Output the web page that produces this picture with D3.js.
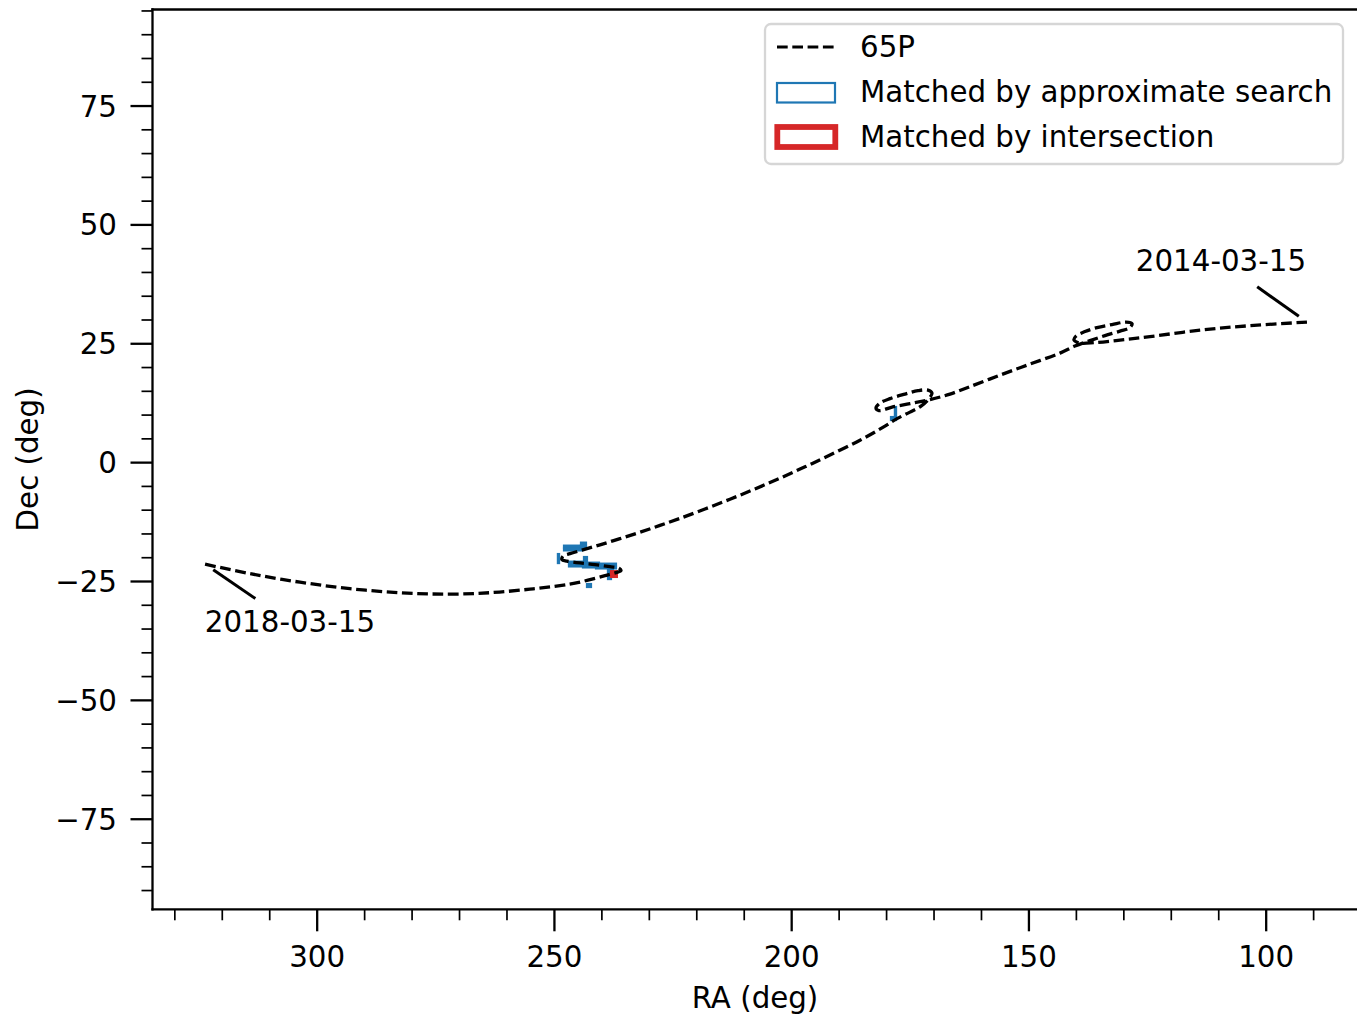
<!DOCTYPE html>
<html>
<head>
<meta charset="utf-8">
<script src="https://cdn.jsdelivr.net/npm/d3@7"></script>
<style>
  body { margin: 0; background: #fff; }
  text { font-family: "DejaVu Sans", sans-serif; fill: #000; }
</style>
</head>
<body>
<svg id="chart" width="1357" height="1015"></svg>
<script>
// Apparent sky track of comet 65P, 2014-03-15 -> 2018-03-15 (degrees)
const trackRA = [
  91.30, 103.30, 113.84, 124.38, 130.70, 135.97, 139.13, 140.40, 139.98, 138.08,
  135.55, 132.39, 129.44, 128.17, 128.60, 130.70, 133.87, 137.03, 140.19, 143.35,
  149.67, 155.99, 162.32, 166.53, 170.75, 174.96, 178.75, 181.50, 182.13, 181.28,
  179.18, 176.02, 173.28, 171.17, 170.33, 170.96, 172.64, 174.96, 177.70, 180.23,
  185.50, 191.82, 197.09, 202.36, 207.63, 212.90, 218.17, 223.43, 227.65,
  231.86, 236.08, 240.29, 244.09, 246.62, 248.09, 248.30, 247.25, 244.51, 241.35,
  238.19, 236.29, 235.87, 236.92, 239.24, 242.40, 245.56, 248.72, 255.05, 263.48,
  272.54, 282.44, 292.98, 303.52, 314.06, 323.54
];
const trackDec = [
  29.45, 28.70, 27.76, 26.40, 25.67, 25.14, 25.04, 25.67, 26.51, 27.46,
  28.30, 28.93, 29.45, 29.14, 28.30, 27.56, 26.61, 25.56, 24.41, 22.93,
  20.62, 18.30, 15.88, 14.31, 13.15, 12.31, 11.57, 10.84, 11.36, 12.41,
  13.36, 14.31, 15.04, 15.15, 14.52, 13.36, 11.78, 10.52, 9.15, 7.57,
  4.61, 1.49, -0.99, -3.37, -5.64, -7.80, -9.86, -11.82, -13.31,
  -14.74, -16.09, -17.39, -18.51, -19.25, -19.78, -20.51, -20.83, -21.21, -21.56,
  -21.99, -22.30, -22.83, -23.25, -23.88, -24.72, -25.46, -25.98, -26.72, -27.46,
  -27.77, -27.46, -26.61, -25.25, -23.46, -21.46
];

// Frames matched by approximate search: [RA centre, Dec centre, RA size, Dec size]
const approxFrames = [
  [245.98, -17.75, 3.67, 0.25], [245.98, -18.38, 3.67, 0.25],
  [243.77, -17.12, 0.93, 0.25], [243.77, -17.75, 0.93, 0.25],
  [249.04, -20.28, 0.12, 1.77],
  [243.35, -20.38, 0.51, 0.72],
  [245.25, -21.12, 3.03, 0.25], [245.25, -21.75, 3.03, 0.25],
  [242.19, -21.33, 3.25, 0.25], [242.19, -21.96, 3.25, 0.25],
  [239.03, -21.54, 4.09, 0.25], [239.03, -22.17, 4.09, 0.25],
  [238.08, -22.59, 0.93, 0.25], [238.08, -23.22, 0.93, 0.25],
  [238.29, -24.17, 0.51, 0.72],
  [242.61, -25.95, 0.72, 0.50],
  [178.02, 10.54, 0.12, 1.98],
  [178.44, 9.17, 0.93, 0.50]
];
// Frames matched by intersection
const intersectFrames = [
  [237.34, -23.54, 0.46, 0.46]
];

const dateLabels = ["2014-03-15", "2018-03-15"];
const raMajorTicks = [300, 250, 200, 150, 100];
const decMajorTicks = [-75, -50, -25, 0, 25, 50, 75];
const raMinorTicks = d3.range(90, 331, 10).filter(v => !raMajorTicks.includes(v));
const decMinorTicks = d3.range(-90, 96, 5).filter(v => !decMajorTicks.includes(v));
const legendLabels = ["65P", "Matched by approximate search", "Matched by intersection"];

const BLUE = "#1f77b4", RED = "#d62728";
const FONT = 29.3;

const svg = d3.select("#chart");
svg.append("rect").attr("width", 1357).attr("height", 1015).attr("fill", "#fff");

const frame = { left: 152.5, right: 1357.5, top: 9.5, bottom: 909.3 };
const x = d3.scaleLinear().domain([334.6, 80.65]).range([frame.left, frame.right]);
const y = d3.scaleLinear().domain([-94.05, 95.2]).range([frame.bottom, frame.top]);

const fmt = d => d < 0 ? "\u2212" + Math.abs(d) : String(d);

// axes: minor and major ticks
function styleAxis(g, width) {
  g.select(".domain").remove();
  g.selectAll(".tick line").attr("stroke", "#000").attr("stroke-width", width);
  g.selectAll(".tick text").style("font-size", FONT + "px").style("font-family", "DejaVu Sans");
}
const gxMinor = svg.append("g").attr("transform", `translate(0,${frame.bottom})`)
  .call(d3.axisBottom(x).tickValues(raMinorTicks).tickSize(11).tickFormat(""));
styleAxis(gxMinor, 1.7);
const gxMajor = svg.append("g").attr("transform", `translate(0,${frame.bottom})`)
  .call(d3.axisBottom(x).tickValues(raMajorTicks).tickSize(22).tickPadding(15.2).tickFormat(fmt));
styleAxis(gxMajor, 2.3);

const gyMinor = svg.append("g").attr("transform", `translate(${frame.left},0)`)
  .call(d3.axisLeft(y).tickValues(decMinorTicks).tickSize(11).tickFormat(""));
styleAxis(gyMinor, 1.7);
const gyMajor = svg.append("g").attr("transform", `translate(${frame.left},0)`)
  .call(d3.axisLeft(y).tickValues(decMajorTicks).tickSize(22).tickPadding(13.5).tickFormat(fmt));
styleAxis(gyMajor, 2.3);
gyMajor.selectAll(".tick text").attr("dy", "0.36em");

// axis titles
svg.append("text")
  .attr("x", (frame.left + frame.right) / 2).attr("y", 1008)
  .attr("text-anchor", "middle").style("font-size", FONT + "px")
  .text("RA (deg)");
svg.append("text")
  .attr("transform", `translate(38,${(frame.top + frame.bottom) / 2}) rotate(-90)`)
  .attr("text-anchor", "middle").style("font-size", FONT + "px")
  .text("Dec (deg)");

// plot content, clipped to the axes box
svg.append("clipPath").attr("id", "plotClip").append("rect")
  .attr("x", frame.left).attr("y", frame.top)
  .attr("width", frame.right - frame.left).attr("height", frame.bottom - frame.top);
const plot = svg.append("g").attr("clip-path", "url(#plotClip)");

function drawFrames(list, color, lw) {
  plot.append("g").selectAll("rect").data(list).join("rect")
    .attr("x", d => x(d[0] + d[2] / 2))
    .attr("y", d => y(d[1] + d[3] / 2))
    .attr("width", d => x(d[0] - d[2] / 2) - x(d[0] + d[2] / 2))
    .attr("height", d => y(d[1] - d[3] / 2) - y(d[1] + d[3] / 2))
    .attr("fill", "none").attr("stroke", color).attr("stroke-width", lw);
}
drawFrames(approxFrames, BLUE, 2.8);
drawFrames(intersectFrames, RED, 5.8);

const track = trackRA.map((ra, i) => [ra, trackDec[i]]);
const line = d3.line().x(d => x(d[0])).y(d => y(d[1])).curve(d3.curveCatmullRom.alpha(0.5));
plot.append("path").datum(track).attr("d", line)
  .attr("fill", "none").attr("stroke", "#000").attr("stroke-width", 3.3)
  .attr("stroke-dasharray", "10.7,4.6");

// date annotations at both ends of the track
const ends = [track[0], track[track.length - 1]];
const offsets = [[-86, -61], [85, 58]];
ends.forEach((p, i) => {
  const px = x(p[0]), py = y(p[1]);
  const [ox, oy] = offsets[i];
  const len = Math.hypot(ox, oy), ux = ox / len, uy = oy / len;
  svg.append("line")
    .attr("x1", px + ux * 10).attr("y1", py + uy * 10)
    .attr("x2", px + ux * 61).attr("y2", py + uy * 61)
    .attr("stroke", "#000").attr("stroke-width", 3);
  svg.append("text")
    .attr("x", px + ox).attr("y", py + oy + 10)
    .attr("text-anchor", "middle").style("font-size", FONT + "px")
    .text(dateLabels[i]);
});

// spines (the right-hand one sits on the canvas edge)
const spines = [
  [frame.left, frame.top, frame.left, frame.bottom],
  [frame.left, frame.bottom, frame.right, frame.bottom],
  [frame.left, frame.top, frame.right, frame.top]
];
svg.append("g").selectAll("line").data(spines).join("line")
  .attr("x1", d => d[0]).attr("y1", d => d[1]).attr("x2", d => d[2]).attr("y2", d => d[3])
  .attr("stroke", "#000").attr("stroke-width", 2.3).attr("stroke-linecap", "square");

// legend
const lg = svg.append("g");
lg.append("rect")
  .attr("x", 765).attr("y", 24).attr("width", 578).attr("height", 140)
  .attr("rx", 6).attr("ry", 6)
  .attr("fill", "#fff").attr("fill-opacity", 0.8)
  .attr("stroke", "#d6d6d6").attr("stroke-width", 2.3);
lg.append("line").attr("x1", 777).attr("x2", 835).attr("y1", 47).attr("y2", 47)
  .attr("stroke", "#000").attr("stroke-width", 3.1).attr("stroke-dasharray", "10.7,4.6");
lg.append("rect").attr("x", 777).attr("y", 83).attr("width", 58).attr("height", 19.5)
  .attr("fill", "none").attr("stroke", BLUE).attr("stroke-width", 2.2);
lg.append("rect").attr("x", 777.3).attr("y", 127).attr("width", 58).attr("height", 20)
  .attr("fill", "none").attr("stroke", RED).attr("stroke-width", 5.8);
[57.3, 102.3, 147.3].forEach((by, i) => {
  lg.append("text").attr("x", 860).attr("y", by).style("font-size", FONT + "px")
    .text(legendLabels[i]);
});
</script>
</body>
</html>
